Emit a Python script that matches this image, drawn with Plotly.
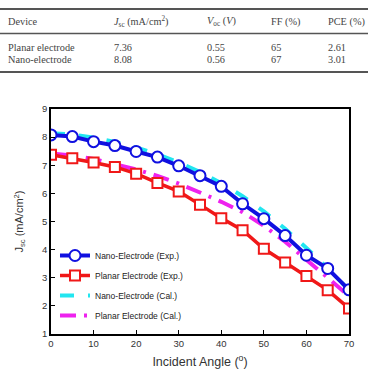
import plotly.graph_objects as go

angles = [0, 5, 10, 15, 20, 25, 30, 35, 40, 45, 50, 55, 60, 65, 70]
nano_exp = [8.08, 8.02, 7.84, 7.70, 7.49, 7.29, 6.98, 6.63, 6.25, 5.63, 5.10, 4.50, 3.80, 3.33, 2.57]
planar_exp = [7.37, 7.25, 7.10, 6.94, 6.70, 6.37, 6.07, 5.60, 5.12, 4.69, 4.03, 3.54, 3.06, 2.56, 1.91]
nano_cal = [8.14, 8.09, 7.98, 7.83, 7.63, 7.39, 7.10, 6.76, 6.36, 5.90, 5.36, 4.74, 4.06, 3.34, 2.56]
planar_cal = [7.42, 7.35, 7.22, 7.05, 6.85, 6.62, 6.35, 6.03, 5.70, 5.33, 4.85, 4.28, 3.62, 3.00, 2.35]

y_ticks = [1, 2, 3, 4, 5, 6, 7, 8, 9]
x_ticks = [0, 10, 20, 30, 40, 50, 60, 70]

table_header = ["Device", "<i>J</i><sub>sc</sub> (mA/cm<sup>2</sup>)", "<i>V</i><sub>oc</sub> (<i>V</i>)", "FF (%)", "PCE (%)"]
table_rows = [
    ["Planar electrode", "7.36", "0.55", "65", "2.61"],
    ["Nano-electrode", "8.08", "0.56", "67", "3.01"],
]

W, H = 368, 369
ML, MR, MT, MB = 51, 19, 109, 35
PW = W - ML - MR
PH = H - MT - MB


def px(x):
    return (x - ML) / PW


def py(y):
    return (H - MB - y) / PH


fig = go.Figure()
fig.add_trace(go.Scatter(
    x=angles, y=nano_cal, mode="lines", name="Nano-Electrode (Cal.)",
    line=dict(color="#22e6f0", width=4, dash="14px,14px"), legendrank=3,
    legendgroup="c"))
fig.add_trace(go.Scatter(
    x=angles, y=planar_cal, mode="lines", name="Planar Electrode (Cal.)",
    line=dict(color="#ee22ee", width=4, dash="16px,8px,3px,8px"), legendrank=4,
    legendgroup="d"))
fig.add_trace(go.Scatter(
    x=angles, y=nano_exp, mode="lines+markers", name="Nano-Electrode (Exp.)",
    line=dict(color="#1010e0", width=4),
    marker=dict(symbol="circle", size=11, color="white", line=dict(color="#1010e0", width=2)),
    legendrank=1, legendgroup="a"))
fig.add_trace(go.Scatter(
    x=angles, y=planar_exp, mode="lines+markers", name="Planar Electrode (Exp.)",
    line=dict(color="#f01818", width=3.5),
    marker=dict(symbol="square", size=10, color="white", line=dict(color="#f01818", width=2)),
    legendrank=2, legendgroup="b"))

axis_common = dict(showline=True, linecolor="black", linewidth=1.5, mirror=True,
                   ticks="inside", ticklen=4, tickcolor="black", showgrid=False,
                   zeroline=False, automargin=False,
                   tickfont=dict(family="Liberation Sans, Arial", size=9.5, color="#333"))

fig.update_xaxes(range=[0, 70], tickvals=x_ticks,
                 title=dict(text="Incident Angle (<sup>o</sup>)", font=dict(family="Liberation Sans, Arial", size=12.5, color="#333"), standoff=10),
                 **axis_common)
fig.update_yaxes(range=[1, 9], tickvals=y_ticks,
                 title=dict(text="J<sub>sc</sub> (mA/cm<sup>2</sup>)", font=dict(family="Liberation Sans, Arial", size=11, color="#333"), standoff=16),
                 **axis_common)

# table
col_x = [7, 113, 206, 270, 327]
line_color = "#555"
for yline, w in [(9, 2), (33.5, 1.5), (72, 2)]:
    fig.add_shape(type="line", xref="paper", yref="paper", x0=px(0), x1=px(368),
                  y0=py(yline), y1=py(yline), line=dict(color=line_color, width=w))
tfont = dict(family="Liberation Serif, Times New Roman", size=10.3, color="#444")
for cx, txt in zip(col_x, table_header):
    fig.add_annotation(x=px(cx), y=py(22), xref="paper", yref="paper", text=txt,
                       showarrow=False, xanchor="left", yanchor="middle", font=tfont,
                       borderpad=0)
for ry, row in zip([47, 60], table_rows):
    for cx, txt in zip(col_x, row):
        fig.add_annotation(x=px(cx), y=py(ry), xref="paper", yref="paper", text=txt,
                           showarrow=False, xanchor="left", yanchor="middle", font=tfont,
                           borderpad=0)

fig.update_layout(
    width=W, height=H, margin=dict(l=ML, r=MR, t=MT, b=MB, autoexpand=False),
    paper_bgcolor="white", plot_bgcolor="white",
    showlegend=True,
    legend=dict(x=px(55), y=py(241), xanchor="left", yanchor="top",
                bgcolor="rgba(0,0,0,0)", borderwidth=0, tracegroupgap=1,
                font=dict(family="Liberation Sans, Arial", size=8.5, color="#222")),
)

fig.write_html("out.html")
